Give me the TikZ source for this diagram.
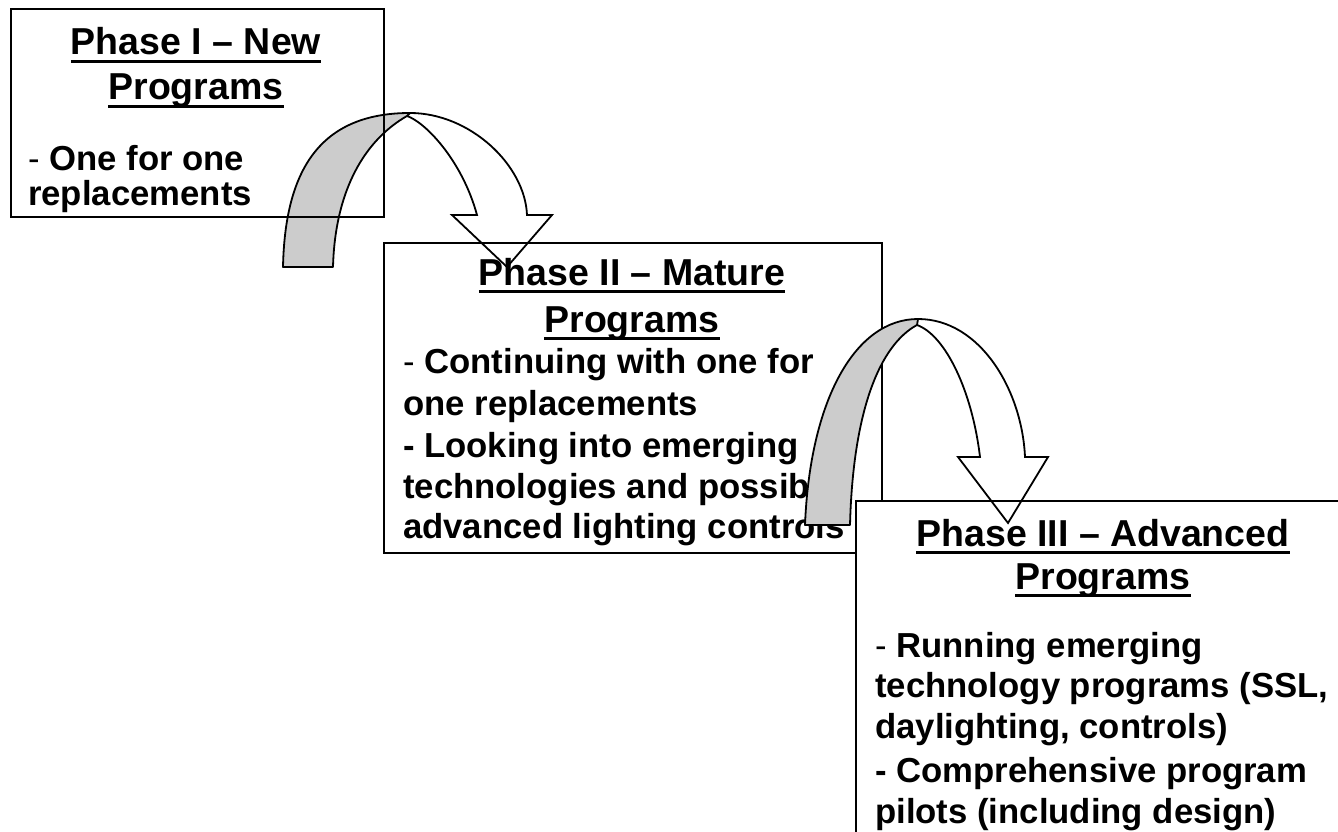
\documentclass[tikz,border=0pt]{standalone}
\usepackage{fontspec}
\setmainfont{Liberation Sans}
\definecolor{bandgray}{RGB}{204,204,204}
\newcommand\ulin[1]{\sbox0{#1}\rlap{\rule[-8pt]{\wd0}{2.6pt}}\usebox0}
\tikzset{
  box/.style={draw, line width=2pt, inner sep=0pt, anchor=north west},
  ttl/.style={anchor=base, inner sep=0pt, font=\fontsize{37.5}{42}\selectfont\bfseries},
  bod/.style={anchor=base west, inner sep=0pt, font=\fontsize{34.7}{40}\selectfont\bfseries},
  band/.style={fill=bandgray, draw, line width=1.8pt, line join=round},
  arrowline/.style={draw, line width=1.8pt, line join=miter},
}
\begin{document}
\begin{tikzpicture}[x=1pt,y=-1pt]
\useasboundingbox (0,0) rectangle (1338,832);
\clip (0,0) rectangle (1338,832);
\fill[white] (0,0) rectangle (1338,832);

% Box 2 and its text
\node[box, minimum width=498pt, minimum height=310pt] (b2) at (383,242) {};
\node[ttl] (t2a) at (632,285) {\ulin{Phase II – Mature}};
\node[ttl] (t2b) at (632,332) {\ulin{Programs}};
\node[bod] (l2a) at (403,373) {{\mdseries -} Continuing with one for};
\node[bod] (l2b) at (403,415) {one replacements};
\node[bod] (l2c) at (403,457) {- Looking into emerging};
\node[bod] (l2d) at (403,498) {technologies and possible};
\node[bod] (l2e) at (403,538) {advanced lighting controls};

% Arrow 1
\coordinate (a1foot) at (283,267);
\coordinate (a1top) at (410,113);
\coordinate (a1join) at (407,116);
\coordinate (a1footin) at (333,267);
\path[band] (a1foot) .. controls (285,170) and (320,113) .. (a1top) -- (a1join)
  .. controls (365,140) and (335,190) .. (a1footin) -- cycle;
\path[arrowline] (a1top) .. controls (470,113) and (525,165) .. (527,215) -- (552,215) -- (507,267)
  -- (452,215) -- (477,215) .. controls (462,160) and (425,122) .. (a1join);

% Box 1 and its text
\node[box, minimum width=373pt, minimum height=208pt] (b1) at (10,8) {};
\node[ttl] (t1a) at (196,55) {\ulin{Phase I – New}};
\node[ttl] (t1b) at (196,100) {\ulin{Programs}};
\node[bod] (l1a) at (28,170) {{\mdseries -} One for one};
\node[bod] (l1b) at (28,205) {replacements};

% Box 3 and its text
\node[box, fill=white, minimum width=520pt, minimum height=360pt] (b3) at (855,500) {};
\node[ttl] (t3a) at (1103,546) {\ulin{Phase III – Advanced}};
\node[ttl] (t3b) at (1103,589) {\ulin{Programs}};
\node[bod] (l3a) at (875,657) {{\mdseries -} Running emerging};
\node[bod] (l3b) at (875,697) {technology programs (SSL,};
\node[bod] (l3c) at (875,738) {daylighting, controls)};
\node[bod] (l3d) at (875,782) {- Comprehensive program};
\node[bod] (l3e) at (875,823) {pilots (including design)};

% Arrow 2
\coordinate (a2foot) at (805,525);
\coordinate (a2top) at (918,319);
\coordinate (a2join) at (917,325);
\coordinate (a2footin) at (850,525);
\path[band] (a2foot) .. controls (810,400) and (855,319) .. (a2top) -- (a2join)
  .. controls (880,345) and (853,410) .. (a2footin) -- cycle;
\path[arrowline] (a2top) .. controls (980,319) and (1022,390) .. (1025,457) -- (1048,457) -- (1008,523)
  -- (958,457) -- (980,457) .. controls (972,390) and (945,335) .. (a2join);
\end{tikzpicture}
\end{document}
